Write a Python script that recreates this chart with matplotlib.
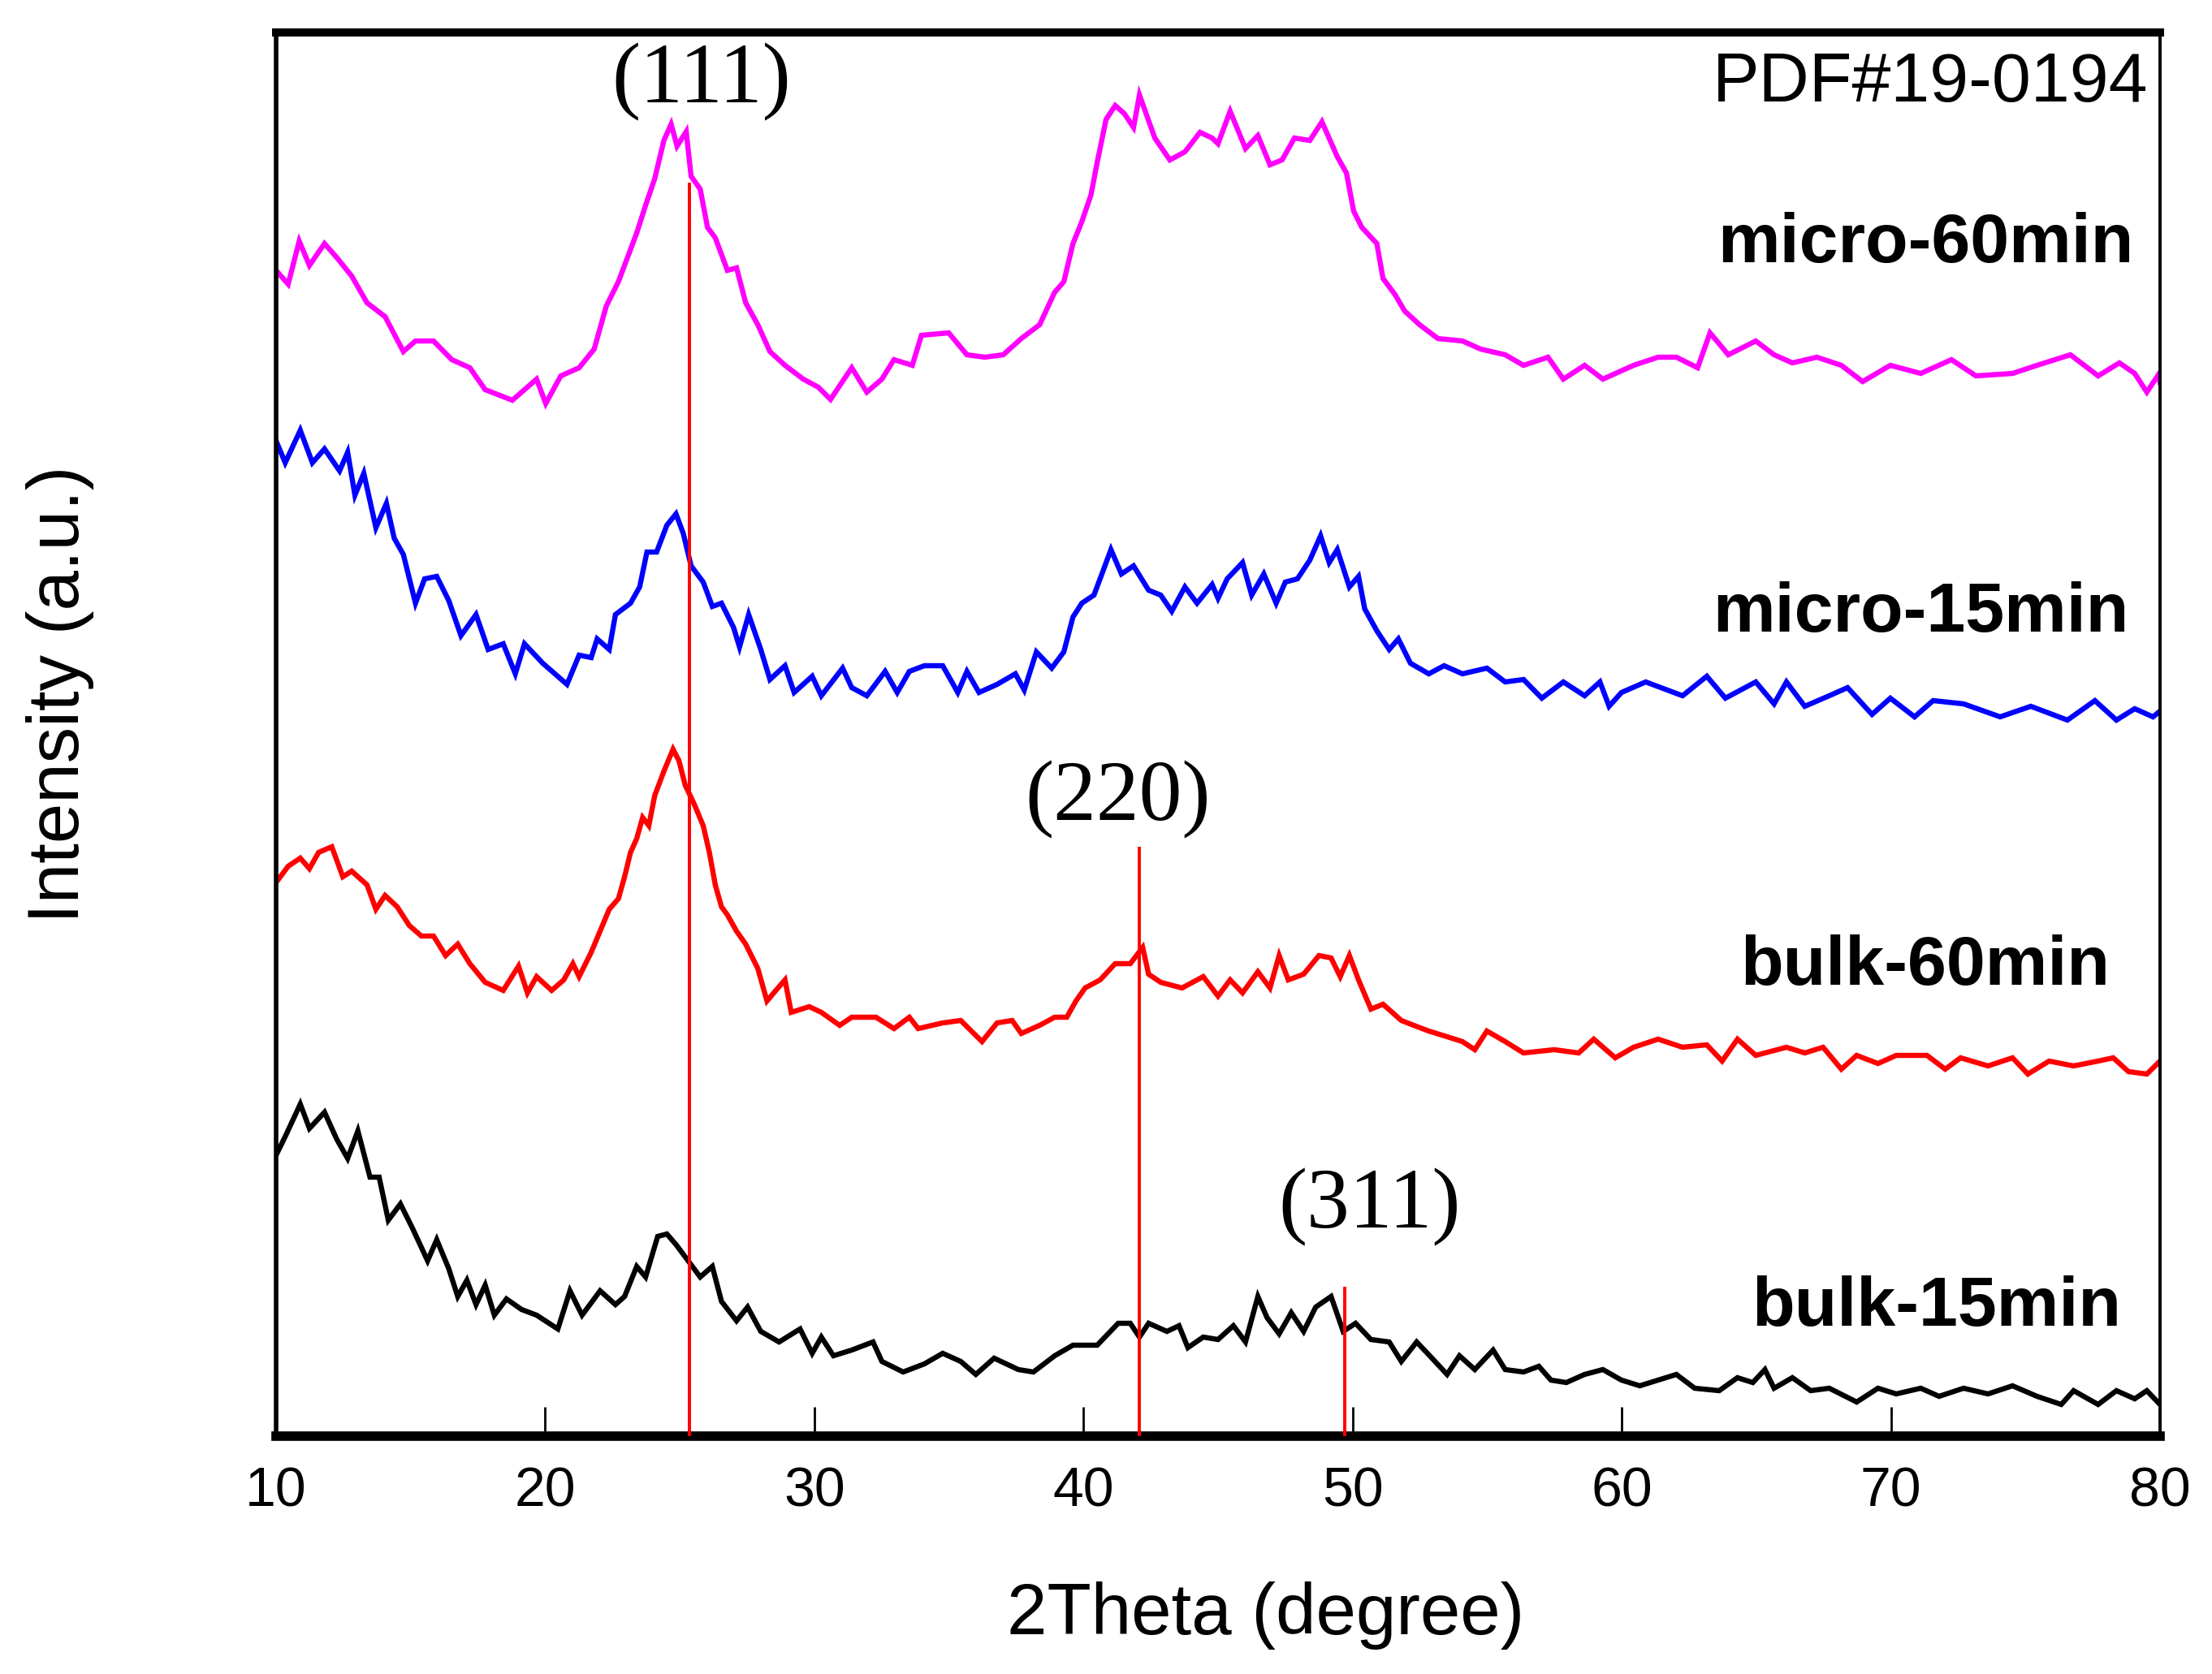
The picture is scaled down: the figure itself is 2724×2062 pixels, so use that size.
import matplotlib
matplotlib.use("Agg")
import matplotlib.pyplot as plt
from matplotlib import font_manager

# ---------------- data ----------------
x_micro60 = [10.0, 10.45, 10.86, 11.24, 11.80, 12.25, 12.81, 13.38, 14.05, 14.73,
             15.18, 15.85, 16.53, 17.20, 17.77, 18.78, 19.68, 20.02, 20.58, 21.26,
             21.82, 22.27, 22.72, 23.06, 23.40, 23.73, 24.07, 24.41, 24.68, 24.90,
             25.24, 25.42, 25.76, 26.03, 26.32, 26.77, 27.11, 27.45, 27.90, 28.35,
             28.91, 29.59, 30.15, 30.60, 31.39, 31.95, 32.51, 32.96, 33.64, 33.98,
             34.99, 35.67, 36.34, 37.02, 37.69, 38.37, 38.93, 39.27, 39.61, 39.94,
             40.28, 40.51, 40.84, 41.18, 41.52, 41.86, 42.08, 42.65, 43.21, 43.77,
             44.33, 44.78,
             45.0, 45.45, 46.02, 46.48, 46.93, 47.38, 47.84, 48.41, 48.86, 49.43,
             49.77, 50.04, 50.34, 50.90, 51.13, 51.58, 51.93, 52.49, 53.17, 54.08,
             54.76, 55.67, 56.35, 57.26, 57.83, 58.62, 59.30, 60.44, 61.35, 62.03,
             62.82, 63.28, 63.96, 64.98, 65.66, 66.34, 67.25, 68.16, 68.95, 69.98,
             71.11, 72.25, 73.16, 74.52, 75.43, 76.67, 77.70, 78.49, 79.06, 79.51,
             79.97, 80.0]
y_micro60 = [1448, 1431, 1484, 1454, 1481, 1464, 1441, 1408, 1391, 1348,
             1361, 1361, 1338, 1328, 1301, 1288, 1314, 1284, 1318, 1328,
             1351, 1404, 1434, 1464, 1494, 1528, 1561, 1608, 1628, 1601,
             1619, 1564, 1548, 1501, 1488, 1448, 1451, 1408, 1381, 1348,
             1331, 1314, 1304, 1289, 1328, 1298, 1314, 1338, 1331, 1368,
             1371, 1344, 1341, 1344, 1364, 1381, 1421, 1434, 1481, 1508,
             1541, 1581, 1634, 1651, 1641, 1624, 1664, 1611, 1584, 1594,
             1618, 1611,
             1604, 1644, 1598, 1614, 1578, 1584, 1611, 1608, 1631, 1588,
             1568, 1521, 1501, 1481, 1438, 1418, 1398, 1381, 1364, 1361,
             1351, 1344, 1331, 1341, 1314, 1331, 1314, 1331, 1341, 1341,
             1328, 1371, 1344, 1361, 1344, 1334, 1341, 1331, 1311, 1331,
             1321, 1338, 1318, 1321, 1331, 1344, 1318, 1334, 1321, 1298,
             1321, 1310]

x_micro15 = [10.0, 10.34, 10.90, 11.35, 11.80, 12.36, 12.66, 12.93, 13.26, 13.71,
             14.10, 14.39, 14.73, 15.18, 15.52, 15.97, 16.42, 16.87, 17.43, 17.88,
             18.44, 18.89, 19.23, 19.91, 20.36, 20.81, 21.26, 21.71, 21.93, 22.38,
             22.61, 23.17, 23.51, 23.78, 24.14, 24.52, 24.86, 25.13, 25.42, 25.87,
             26.21, 26.55, 27.00, 27.22, 27.56, 28.01, 28.35, 28.91, 29.25, 29.92,
             30.26, 31.05, 31.39, 31.95, 32.63, 33.08, 33.53, 34.09, 34.77, 35.33,
             35.67, 36.12, 36.79, 37.47, 37.80, 38.25, 38.82, 39.27, 39.61, 39.94,
             40.39, 40.73, 41.02, 41.41, 41.86, 42.42, 42.87, 43.28, 43.77, 44.22,
             44.78,
             45.0, 45.34, 45.91, 46.25, 46.70, 47.16, 47.50, 47.95, 48.41, 48.81,
             49.13, 49.43, 49.88, 50.22, 50.45, 50.90, 51.36, 51.70, 52.15, 52.83,
             53.40, 54.08, 54.99, 55.67, 56.35, 57.03, 57.83, 58.62, 59.19, 59.53,
             59.99, 60.89, 62.26, 63.16, 63.85, 64.98, 65.66, 66.12, 66.80, 67.71,
             68.39, 69.30, 69.98, 70.88, 71.57, 72.70, 74.06, 75.20, 76.56, 77.58,
             78.38, 79.06, 79.74, 80.0]
y_micro15 = [1238, 1211, 1251, 1211, 1228, 1201, 1224, 1171, 1198, 1131,
             1161, 1118, 1098, 1038, 1068, 1071, 1041, 998, 1024, 981,
             988, 951, 988, 964, 951, 938, 974, 971, 994, 981,
             1024, 1038, 1058, 1101, 1101, 1134, 1148, 1124, 1084, 1064,
             1034, 1038, 1008, 984, 1024, 981, 944, 961, 928, 948,
             924, 958, 934, 924, 954, 928, 954, 961, 961, 928,
             954, 928, 938, 951, 931, 978, 958, 978, 1021, 1038,
             1048, 1078, 1104, 1074, 1084, 1054, 1048, 1028, 1058, 1038,
             1061,
             1044, 1068, 1088, 1048, 1074, 1038, 1064, 1068, 1091, 1121,
             1088, 1104, 1058, 1071, 1031, 1004, 981, 994, 964, 951,
             961, 951, 958, 941, 944, 921, 941, 924, 941, 911,
             928, 941, 924, 948, 921, 941, 914, 941, 911, 924,
             934, 901, 921, 898, 918, 914, 898, 911, 894, 918,
             894, 908, 898, 905]

x_bulk60 = [10.0, 10.45, 10.90, 11.24, 11.58, 12.07, 12.48, 12.81, 13.38, 13.71,
            14.05, 14.50, 14.95, 15.40, 15.85, 16.30, 16.75, 17.20, 17.77, 18.44,
            19.01, 19.34, 19.68, 20.24, 20.69, 21.03, 21.26, 21.71, 22.04, 22.38,
            22.72, 22.95, 23.17, 23.40, 23.62, 23.85, 24.07, 24.41, 24.75, 24.97,
            25.20, 25.53, 25.87, 26.10, 26.32, 26.55, 26.77, 27.11, 27.45, 27.90,
            28.24, 28.57, 28.91, 29.14, 29.81, 30.26, 30.94, 31.39, 32.29, 32.96,
            33.53, 33.86, 34.77, 35.44, 36.23, 36.79, 37.35, 37.69, 38.37, 38.93,
            39.38, 39.72, 40.06, 40.62, 41.18, 41.74, 42.20, 42.42, 42.87, 43.66,
            44.45,
            45.0, 45.45, 45.91, 46.48, 46.93, 47.27, 47.61, 48.18, 48.75, 49.20,
            49.54, 49.88, 50.22, 50.68, 51.13, 51.81, 52.27, 52.83, 53.51, 54.08,
            54.54, 54.99, 55.67, 56.35, 57.49, 58.40, 58.96, 59.76, 60.44, 61.35,
            62.26, 63.16, 63.73, 64.30, 64.98, 66.12, 66.80, 67.48, 68.16, 68.73,
            69.52, 70.20, 71.34, 72.02, 72.59, 73.61, 74.52, 75.09, 75.88, 76.79,
            77.70, 78.26, 78.83, 79.51, 80.0]
y_bulk60 = [694, 714, 724, 711, 731, 738, 701, 708, 691, 661,
            678, 664, 641, 628, 628, 604, 618, 594, 571, 561,
            591, 558, 578, 561, 574, 594, 578, 608, 634, 661,
            674, 701, 731, 748, 774, 764, 801, 831, 858, 844,
            814, 791, 764, 731, 691, 664, 654, 634, 618, 588,
            548, 561, 574, 534, 541, 534, 518, 528, 528, 514,
            528, 514, 521, 524, 498, 521, 524, 508, 518, 528,
            528, 548, 564, 574, 594, 594, 614, 581, 571, 564,
            578,
            554, 574, 558, 584, 564, 604, 574, 581, 604, 601,
            578, 604, 574, 538, 544, 524, 518, 511, 504, 498,
            488, 511, 498, 484, 488, 484, 501, 478, 491, 501,
            491, 494, 474, 501, 481, 491, 484, 491, 464, 481,
            471, 481, 481, 464, 478, 468, 478, 458, 474, 468,
            474, 478, 461, 458, 474]

x_bulk15 = [10.0, 10.34, 10.90, 11.24, 11.80, 12.25, 12.66, 13.04, 13.49, 13.83,
            14.17, 14.62, 15.07, 15.63, 15.97, 16.42, 16.75, 17.09, 17.43, 17.77,
            18.11, 18.56, 19.12, 19.68, 20.47, 20.92, 21.37, 22.04, 22.61, 22.95,
            23.40, 23.73, 24.18, 24.52, 24.86, 25.31, 25.76, 26.21, 26.55, 27.11,
            27.52, 28.01, 28.69, 29.47, 29.92, 30.26, 30.71, 31.39, 32.18, 32.51,
            33.30, 34.09, 34.77, 35.44, 36.00, 36.68, 37.58, 38.14, 38.93, 39.61,
            40.51, 41.29, 41.74, 42.08, 42.42, 43.10, 43.55, 43.88, 44.45,
            45.0, 45.57, 46.02, 46.48, 46.82, 47.27, 47.72, 48.18, 48.63, 49.20,
            49.65, 50.11, 50.68, 51.36, 51.81, 52.38, 52.95, 53.51, 53.97, 54.54,
            55.22, 55.67, 56.35, 56.92, 57.37, 57.94, 58.62, 59.30, 59.99, 60.67,
            61.35, 62.03, 62.71, 63.62, 64.30, 64.87, 65.32, 65.66, 66.34, 67.02,
            67.71, 68.73, 69.52, 70.20, 71.11, 71.79, 72.70, 73.61, 74.52, 75.43,
            76.33, 76.79, 77.70, 78.38, 79.06, 79.51, 80.0]
y_bulk15 = [358, 381, 421, 391, 411, 378, 354, 388, 331, 331,
            278, 298, 268, 228, 254, 218, 184, 204, 174, 198,
            161, 181, 168, 161, 144, 191, 161, 191, 174, 184,
            221, 208, 258, 261, 248, 228, 208, 221, 178, 154,
            171, 141, 128, 144, 114, 134, 111, 118, 128, 104,
            91, 101, 114, 104, 88, 108, 94, 91, 111, 124,
            124, 151, 151, 134, 151, 141, 148, 121, 134,
            131, 148, 128, 184, 158, 138, 164, 141, 171, 184,
            141, 151, 131, 128, 104, 128, 108, 88, 111, 94,
            118, 94, 91, 98, 81, 78, 88, 94, 81, 74,
            81, 88, 71, 68, 84, 78, 94, 71, 84, 68,
            71, 54, 71, 64, 71, 61, 71, 64, 74, 61,
            51, 68, 51, 68, 58, 68, 51]

series_names = ["micro-60min", "micro-15min", "bulk-60min", "bulk-15min"]
series_colors = ["#ff00ff", "#0000ff", "#ff0000", "#000000"]

# reference lines (PDF#19-0194)
ref_pos = [25.36, 42.07, 49.70]
ref_top = [1554, 736, 194]
ref_hkl = ["(111)", "(220)", "(311)"]
hkl_x = [25.8, 41.29, 50.64]
hkl_y = [1655, 771, 269]

label_x = [79.03, 78.83, 78.15, 78.56]
label_y = [1458, 1003, 568, 148]

xticks = [10, 20, 30, 40, 50, 60, 70, 80]

# ---------------- fonts ----------------
names = {f.name for f in font_manager.fontManager.ttflist}
if "Liberation Sans Narrow" in names:
    axis_font = "Liberation Sans Narrow"
    tick_fs, xlab_fs, ylab_fs = 28, 38, 38
else:
    axis_font = "Liberation Sans"
    tick_fs, xlab_fs, ylab_fs = 24.5, 32, 32
sans = "Liberation Sans"
serif = "Liberation Serif"

# ---------------- figure ----------------
fig = plt.figure(figsize=(13.62, 10.31), dpi=200)
ax = fig.add_axes([0.1248, 0.1421, 0.9765 - 0.1248, 0.9806 - 0.1421])

data = [(x_micro60, y_micro60), (x_micro15, y_micro15),
        (x_bulk60, y_bulk60), (x_bulk15, y_bulk15)]
for (xs, ys), c in zip(data, series_colors):
    ax.plot(xs, ys, color=c, lw=2.3, solid_joinstyle="miter")

ymin, ymax = 12, 1741
for xp, top in zip(ref_pos, ref_top):
    ax.plot([xp, xp], [ymin, top], color="#ff0000", lw=1.4, zorder=3)

for t, xh, yh in zip(ref_hkl, hkl_x, hkl_y):
    ax.text(xh, yh, t, ha="center", va="baseline", fontsize=38,
            family=serif, color="black")

for name, lx, ly in zip(series_names, label_x, label_y):
    ax.text(lx, ly, name, ha="right", va="baseline", fontsize=31,
            fontweight="bold", family=sans, color="black")

ax.text(79.57, 1656, "PDF#19-0194", ha="right", va="baseline", fontsize=31,
        family=sans, color="black")

ax.set_xlim(10, 80)
ax.set_ylim(ymin, ymax)
ax.set_xticks(xticks)
ax.set_xticklabels([str(v) for v in xticks], fontsize=tick_fs, family=axis_font)
ax.set_yticks([])
ax.tick_params(axis="x", direction="in", length=13, width=1.0, pad=13,
               top=False)
ax.spines["bottom"].set_linewidth(4.2)
ax.spines["top"].set_linewidth(3.6)
ax.spines["left"].set_linewidth(2.0)
ax.spines["right"].set_linewidth(1.4)

fig.text(0.572, 0.035, "2Theta (degree)", ha="center",
         va="center", fontsize=xlab_fs, family=axis_font)
fig.text(0.027, 0.585, "Intensity (a.u.)", ha="center",
         va="center", rotation=90, fontsize=ylab_fs, family=axis_font)

fig.savefig("out.png", dpi=200, facecolor="white")
